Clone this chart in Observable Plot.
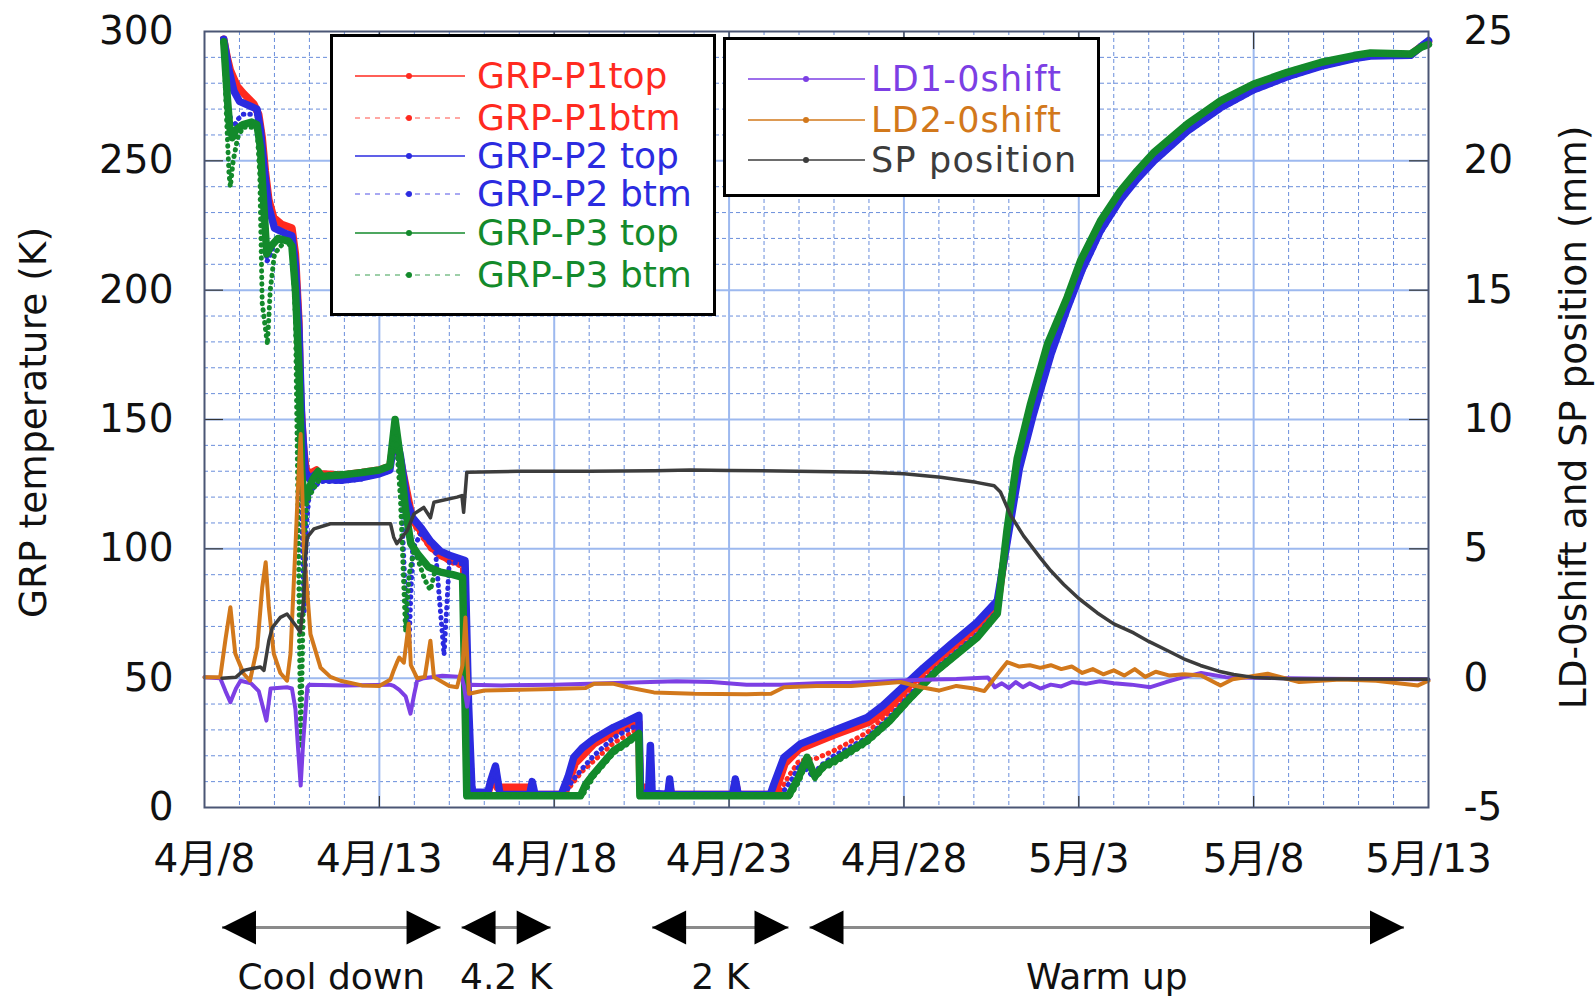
<!DOCTYPE html>
<html><head><meta charset="utf-8">
<script src="https://cdn.jsdelivr.net/npm/d3@7"></script>
<script src="https://cdn.jsdelivr.net/npm/@observablehq/plot@0.6"></script>
<style>
body{margin:0;background:#fff;}
#wrap{position:relative;width:1596px;height:1000px;font-family:"DejaVu Sans",sans-serif;}
.lg{position:absolute;box-sizing:border-box;border:3px solid #000;background:#fff;}
.row{position:absolute;left:0;height:34px;width:100%;}
.row svg{position:absolute;top:0;left:0;}
.row span{position:absolute;line-height:34px;white-space:nowrap;top:0;}
</style></head><body><div id="wrap"></div>
<script>
// ---- data: [day offset from 4/8 00:00, value] ----
const startDay = Date.UTC(2014, 3, 8);
const p1top = [[0.55,297],[0.65,290],[0.74,285],[0.93,279],[1.12,276],[1.41,272],[1.55,268],[1.65,259],[1.74,246],[1.84,235],[1.98,228],[2.2,225.5],[2.5,224],[2.6,214],[2.65,201],[2.7,188],[2.75,157],[2.84,138],[2.9,131],[3.0,129],[3.2,130.5],[3.3,129],[3.9,128.5],[4.5,129.5],[5.0,130.5],[5.3,132],[5.45,145],[5.55,138],[5.7,128],[5.85,118],[5.95,111],[6.18,107],[6.46,101],[6.75,97.4],[7.0,96],[7.41,94],[7.45,60],[7.5,20],[7.55,5],[8.1,5],[8.2,10],[8.32,15],[8.37,7.8],[9.27,7.8],[9.3,5],[10.25,5],[10.45,11],[10.6,17],[11.13,24.5],[11.7,29],[12.1,31.5],[12.42,33],[12.45,7.8],[12.75,7.8],[12.78,5],[13.25,5],[13.3,9],[13.35,5],[15.1,5],[15.18,10],[15.26,5],[16.3,5],[16.6,17],[17.0,22.5],[18.0,28],[19.0,33],[19.5,37.5],[20.0,45],[20.56,52.5],[21.33,61.5],[22.09,70],[22.67,77.5],[22.97,106],[23.27,133],[23.66,154],[24.15,177],[24.62,195],[25.08,210],[25.62,225],[26.19,236.5],[26.67,244.5],[27.15,251.5],[28.1,262.8],[29.05,271.8],[30.0,278.5],[30.96,283.3],[31.91,287.2],[32.87,290],[33.34,291],[34.49,291],[34.77,294],[35.0,296]];
const p1btm = [[0.55,296],[0.7,286],[0.9,279],[1.2,275],[1.45,270],[1.6,262],[1.75,244],[1.9,231],[2.1,226],[2.5,223],[2.6,212],[2.7,185],[2.78,150],[2.88,132],[3.0,129],[3.3,129],[4.5,129],[5.3,131.5],[5.45,144],[5.6,134],[5.8,118],[6.0,109],[6.46,100],[7.0,95],[7.41,93],[7.47,40],[7.55,5],[8.1,5],[8.2,10],[8.32,14],[8.4,5],[10.3,5],[10.5,9],[10.8,14],[11.13,18],[11.7,25],[12.1,28],[12.42,30.5],[12.46,5],[16.4,5],[16.7,12],[17.0,18],[17.5,19],[18.0,22],[18.95,29],[19.6,37],[20.2,45],[20.95,55],[22.1,68],[22.67,76.5],[22.97,106],[23.27,133],[23.66,154.5],[24.15,177.5],[24.62,195.5],[25.08,210.5],[25.62,225.5],[26.19,237],[26.67,245],[27.15,252],[28.1,263],[29.05,272],[30.0,279],[30.96,283.7],[31.91,287.5],[32.87,290.3],[33.34,291.3],[34.49,291.2],[34.77,294],[35.0,295.5]];
const p2top = [[0.55,297],[0.7,285],[0.84,277],[1.0,273],[1.5,270],[1.6,262],[1.7,248],[1.84,232],[2.0,224],[2.3,222],[2.5,221],[2.6,210],[2.7,185],[2.78,150],[2.88,130],[3.0,127],[3.2,129],[3.3,127],[3.9,126.5],[4.5,127.5],[5.0,129],[5.3,130.5],[5.45,145],[5.6,136],[5.8,118],[5.95,112],[6.2,108],[6.46,103],[6.75,99],[7.0,97.5],[7.45,95.5],[7.55,40],[7.65,6],[8.1,5.8],[8.2,11],[8.32,16],[8.45,5],[9.3,5],[9.37,10],[9.45,5],[10.2,5],[10.4,12],[10.56,19.4],[10.8,23],[11.13,26.5],[11.7,31],[12.1,33.5],[12.42,35.6],[12.47,5.5],[12.7,5.5],[12.75,24],[12.8,5.5],[13.25,5],[13.3,11],[13.35,5],[15.1,5],[15.18,11],[15.26,5],[16.18,5],[16.28,9],[16.57,19.4],[17.04,24.6],[18.0,29.8],[18.95,34.8],[19.4,39.4],[20.0,47],[20.56,54],[21.33,63],[22.09,71.6],[22.67,80],[22.98,105],[23.3,131],[23.7,152],[24.2,175],[24.67,193],[25.1,208],[25.62,223],[26.19,235],[26.67,243],[27.15,250],[28.1,261.5],[29.05,270.5],[30.0,277.5],[30.96,282.5],[31.91,286.5],[32.87,289.5],[33.34,290.5],[34.49,290.8],[34.77,294],[35.0,296.5]];
const p2btm = [[0.55,297],[0.65,275],[0.79,262],[0.95,266],[1.1,268],[1.5,268],[1.6,262],[1.7,240],[1.78,211],[1.9,214],[2.0,219],[2.36,220.5],[2.5,219],[2.6,205],[2.7,160],[2.78,110],[2.85,75],[2.92,110],[3.0,122],[3.3,126],[3.9,126],[4.5,127],[5.3,130],[5.45,143],[5.6,128],[5.75,80],[5.85,63],[5.95,100],[6.2,106],[6.6,100],[6.85,59],[7.0,95],[7.45,94],[7.55,30],[7.7,5.5],[8.1,5.5],[8.2,11],[8.32,16],[8.45,5],[9.3,5],[9.37,10],[9.45,5],[10.3,5],[10.5,10],[10.8,15],[11.13,20],[11.7,27],[12.1,30],[12.42,32],[12.47,5.5],[12.72,5.5],[12.75,22],[12.8,5.5],[13.25,5],[13.3,11],[13.35,5],[15.1,5],[15.18,11],[15.26,5],[16.5,5],[16.8,11],[17.04,17],[17.4,12],[17.6,16],[18.0,20],[18.95,27],[19.6,35],[20.2,44],[20.95,54],[22.1,67],[22.67,76],[22.98,104],[23.3,130],[23.7,151],[24.2,174],[24.67,192],[25.1,207],[25.62,222],[26.19,234.5],[26.67,242.5],[27.15,249.5],[28.1,261],[29.05,270],[30.0,277],[30.96,282],[31.91,286.2],[32.87,289.2],[33.34,290.3],[34.49,290.6],[34.77,293.8],[35.0,296.5]];
const p3top = [[0.55,296],[0.65,275],[0.72,263],[0.8,259],[0.9,262],[1.1,264],[1.35,265],[1.5,264],[1.6,255],[1.7,232],[1.78,214],[1.9,217],[2.1,220],[2.4,219],[2.5,217],[2.6,200],[2.7,170],[2.78,130],[2.85,118],[2.95,122],[3.1,127],[3.25,130],[3.35,128],[3.9,128.5],[4.5,129.5],[5.0,130.5],[5.3,132],[5.45,150],[5.6,135],[5.75,115],[5.9,102],[6.1,98],[6.4,93],[6.75,91],[7.1,90],[7.38,89],[7.45,40],[7.5,4.5],[10.75,4.5],[10.9,9],[11.13,13],[11.7,22],[12.1,25.5],[12.42,28.6],[12.45,4.5],[16.7,4.5],[17.0,12],[17.23,19.4],[17.45,12],[17.7,16],[18.0,18],[18.95,25.9],[19.6,33.6],[20.2,42.6],[20.95,53],[22.1,65.8],[22.67,75],[22.95,107.6],[23.24,135],[23.62,156],[24.1,179],[24.67,197.3],[25.05,211.4],[25.62,226.8],[26.19,238.4],[26.67,246.2],[27.15,253.3],[28.1,264.2],[29.05,273.2],[30.0,279.7],[30.96,284.2],[31.91,288],[32.87,290.7],[33.34,291.7],[34.49,291.3],[34.77,293.8],[35.0,295]];
const p3btm = [[0.55,296],[0.62,270],[0.7,245],[0.74,240],[0.82,250],[0.95,259],[1.1,263],[1.5,263],[1.58,245],[1.65,195],[1.8,179],[1.88,200],[2.0,214],[2.3,219],[2.5,217],[2.6,190],[2.68,110],[2.75,23],[2.8,60],[2.86,105],[2.92,118],[3.1,123],[3.3,127],[3.6,129],[4.5,129.5],[5.3,131.5],[5.45,149],[5.6,120],[5.75,68],[5.85,90],[6.0,100],[6.3,88],[6.46,84],[6.6,92],[7.0,90],[7.38,89],[7.45,30],[7.5,4.5],[10.8,4.5],[11.0,9],[11.13,12],[11.7,21],[12.1,24.5],[12.42,28],[12.45,4.5],[16.75,4.5],[17.0,10],[17.23,18],[17.45,11],[17.7,15],[18.0,17],[18.95,25],[19.6,33],[20.2,42],[20.95,52.5],[22.1,65.5],[22.67,74.5],[22.95,107],[23.24,135],[23.62,156.5],[24.1,179.5],[24.67,197.5],[25.05,211.5],[25.62,227],[26.19,238.5],[26.67,246.5],[27.15,253.5],[28.1,264.5],[29.05,273.5],[30.0,280],[30.96,284.5],[31.91,288.2],[32.87,290.8],[33.34,291.8],[34.49,291.5],[34.77,294],[35.0,295]];
// right axis series (mm)
const ld1 = [[0,0.04],[0.45,0],[0.6,-0.5],[0.74,-0.93],[0.9,-0.4],[1.03,-0.1],[1.33,-0.2],[1.55,-0.5],[1.77,-1.64],[1.89,-0.4],[2.36,-0.35],[2.5,-0.4],[2.6,-1.2],[2.68,-2.8],[2.75,-4.15],[2.82,-2.5],[2.94,-0.35],[3.0,-0.25],[4.0,-0.28],[5.3,-0.25],[5.41,-0.3],[5.57,-0.45],[5.75,-0.7],[5.89,-1.37],[6.0,-0.6],[6.08,-0.1],[6.27,0.0],[6.8,0.09],[7.35,0.05],[7.42,-0.3],[7.51,-1.1],[7.6,-0.25],[8.5,-0.28],[10.0,-0.25],[11.0,-0.22],[12.0,-0.18],[13.5,-0.12],[14.5,-0.15],[15.5,-0.25],[16.5,-0.25],[17.5,-0.2],[18.5,-0.18],[19.5,-0.12],[20.5,-0.06],[21.5,-0.03],[22.4,0.03],[22.6,-0.35],[22.8,-0.2],[23.0,-0.38],[23.2,-0.15],[23.4,-0.35],[23.6,-0.2],[23.9,-0.4],[24.2,-0.25],[24.5,-0.32],[24.8,-0.15],[25.2,-0.22],[25.6,-0.12],[26.0,-0.2],[26.5,-0.25],[27.05,-0.35],[27.5,-0.15],[28.0,0.04],[28.5,0.2],[29.2,0.04],[30.0,0.02],[31.0,0],[32.0,-0.02],[33.0,-0.03],[34.0,-0.03],[35.0,-0.05]];
const ld2 = [[0,0.04],[0.45,0.04],[0.6,1.5],[0.74,2.74],[0.88,0.95],[1.12,0.17],[1.3,-0.1],[1.51,1.2],[1.65,3.5],[1.75,4.48],[1.84,2.74],[1.98,0.95],[2.17,0.2],[2.36,-0.1],[2.46,0.95],[2.6,5.06],[2.68,7.6],[2.75,9.44],[2.8,7.0],[2.84,5.06],[3.03,1.7],[3.32,0.4],[3.6,0.05],[3.89,-0.1],[4.5,-0.28],[5.0,-0.3],[5.32,-0.05],[5.41,0.3],[5.5,0.6],[5.57,0.8],[5.7,0.6],[5.84,2.1],[5.9,0.5],[6.08,0.0],[6.3,0.05],[6.46,1.45],[6.56,0.04],[7.0,-0.3],[7.22,-0.35],[7.38,0.5],[7.46,2.35],[7.56,-0.6],[8.0,-0.48],[9.0,-0.45],[10.0,-0.42],[10.9,-0.38],[11.13,-0.22],[11.7,-0.22],[12.1,-0.35],[12.85,-0.55],[14.0,-0.6],[15.5,-0.62],[16.2,-0.6],[16.57,-0.35],[17.5,-0.3],[18.5,-0.3],[19.9,-0.15],[20.5,-0.35],[21.0,-0.48],[21.5,-0.3],[22.0,-0.4],[22.3,-0.5],[22.76,0.3],[22.95,0.62],[23.3,0.45],[23.6,0.5],[23.9,0.4],[24.2,0.5],[24.5,0.35],[24.8,0.45],[25.1,0.2],[25.4,0.35],[25.7,0.15],[26.0,0.3],[26.3,0.1],[26.6,0.35],[26.9,0.05],[27.2,0.25],[27.6,0.1],[28.0,0.15],[28.5,0.1],[29.05,-0.28],[29.4,-0.04],[30.4,0.17],[31.3,-0.15],[32.5,-0.05],[33.5,-0.1],[34.7,-0.28],[35.0,-0.1]];
const sp = [[0.5,0],[0.9,0.04],[1.12,0.3],[1.4,0.38],[1.6,0.43],[1.7,0.3],[1.84,1.45],[1.94,1.96],[2.17,2.35],[2.36,2.48],[2.5,2.23],[2.65,1.96],[2.74,1.77],[2.84,3.12],[2.89,4.67],[2.94,5.45],[3.13,5.77],[3.6,5.97],[5.32,5.97],[5.41,5.45],[5.5,5.2],[5.8,5.71],[5.99,6.35],[6.27,6.6],[6.46,6.2],[6.56,6.8],[7.22,7.0],[7.36,7.06],[7.41,6.41],[7.5,7.96],[9,8.0],[11,8.0],[12.87,8.02],[13.9,8.05],[15,8.03],[16.96,8.0],[19.0,7.96],[20.0,7.9],[21.05,7.77],[22.07,7.57],[22.58,7.44],[22.76,7.2],[23.05,6.3],[23.42,5.5],[23.9,4.65],[24.2,4.15],[24.57,3.62],[25.0,3.08],[25.53,2.52],[26.0,2.1],[26.57,1.75],[27.0,1.42],[27.53,1.07],[28.0,0.75],[28.48,0.49],[29.0,0.27],[29.43,0.14],[30.0,0.03],[31,-0.03],[33,-0.03],[35,-0.04]];
const phases = [
  {label: "Cool down", start: 0.5, end: 6.75},
  {label: "4.2 K", start: 7.35, end: 9.9},
  {label: "2 K", start: 12.8, end: 16.7},
  {label: "Warm up", start: 17.3, end: 34.3}
];
const tempTicks = [0, 50, 100, 150, 200, 250, 300];
const dateTickDays = [0, 5, 10, 15, 20, 25, 30, 35];
const tempSeries = [
  {name: "GRP-P1top", data: p1top, color: "#ff2a1f", dashed: false},
  {name: "GRP-P1btm", data: p1btm, color: "#ff2a1f", dashed: true},
  {name: "GRP-P2 top", data: p2top, color: "#2b2be0", dashed: false},
  {name: "GRP-P2 btm", data: p2btm, color: "#2b2be0", dashed: true},
  {name: "GRP-P3 top", data: p3top, color: "#138a2b", dashed: false},
  {name: "GRP-P3 btm", data: p3btm, color: "#138a2b", dashed: true}
];
const rightSeries = [
  {name: "LD1-0shift", data: ld1, color: "#7c3fe4", width: 4},
  {name: "LD2-0shift", data: ld2, color: "#d2781b", width: 4},
  {name: "SP position", data: sp, color: "#3c3c3c", width: 3.5}
];

// ---- helpers ----
const toDate = d => new Date(startDay + d * 86400000);
const mmToK = mm => (mm + 5) * 10;  // right axis: -5..25 mm over 0..300 K
const dateFmt = d => `${d.getUTCMonth() + 1}月/${d.getUTCDate()}`;
const majorDates = dateTickDays.map(toDate);
const minorDates = d3.range(1, 35).filter(d => d % 5).map(toDate);
const innerMajorDates = dateTickDays.filter(d => d > 0 && d < 35).map(toDate);
const minorK = d3.range(10, 300, 10).filter(k => k % 50);
const innerK = tempTicks.filter(k => k > 0 && k < 300);

const W = 1596, H = 1000, mL = 204, mR = 168, mT = 31, mB = 193;
const fw = W - mL - mR, fh = H - mT - mB;

const head = {draw(ctx) { ctx.moveTo(0, 0); ctx.lineTo(-34, -17); ctx.lineTo(-34, 17); ctx.closePath(); }};

const marks = [
  Plot.gridX(minorDates, {stroke: "#6a8edb", strokeOpacity: 1, strokeWidth: 1, strokeDasharray: "4,3"}),
  Plot.gridY(minorK, {stroke: "#6a8edb", strokeOpacity: 1, strokeWidth: 1, strokeDasharray: "4,3"}),
  Plot.gridX(innerMajorDates, {stroke: "#9db9ef", strokeOpacity: 1, strokeWidth: 2}),
  Plot.gridY(innerK, {stroke: "#9db9ef", strokeOpacity: 1, strokeWidth: 2}),
  Plot.tickY(innerK, {y: d => d, insetRight: fw - 19, stroke: "#333", strokeWidth: 1.2}),
  Plot.tickY(innerK, {y: d => d, insetLeft: fw - 19, stroke: "#333", strokeWidth: 1.2}),
  Plot.tickX(innerMajorDates, {x: d => d, insetTop: fh - 11, stroke: "#333", strokeWidth: 1.2}),
  Plot.tickX(innerMajorDates, {x: d => d, insetBottom: fh - 18, stroke: "#333", strokeWidth: 1.2})
];
for (const s of tempSeries) {
  marks.push(Plot.line(s.data, {
    x: p => toDate(p[0]), y: p => p[1], stroke: s.color,
    strokeWidth: s.dashed ? 5 : 7.5,
    strokeDasharray: s.dashed ? "0.5,6" : null,
    strokeLinecap: "round", strokeLinejoin: "round"
  }));
}
for (const s of rightSeries) {
  marks.push(Plot.line(s.data, {
    x: p => toDate(p[0]), y: p => mmToK(p[1]), stroke: s.color,
    strokeWidth: s.width, strokeLinecap: "round", strokeLinejoin: "round"
  }));
}
marks.push(
  Plot.frame({stroke: "#4b5675", strokeWidth: 2}),
  Plot.axisY(tempTicks, {anchor: "left", tickSize: 0, tickPadding: 31, fontSize: 39, fill: "#111"}),
  Plot.axisY(tempTicks, {anchor: "right", tickSize: 0, tickPadding: 35, fontSize: 39, fill: "#111", tickFormat: k => String(k / 10 - 5)}),
  Plot.axisX(majorDates, {anchor: "bottom", tickSize: 0, tickPadding: 37, fontSize: 39, fill: "#111", tickFormat: dateFmt, fontFamily: '"DejaVu Sans", "Noto Sans CJK JP", sans-serif'}),
  Plot.text(["GRP temperature (K)"], {text: d => d, frameAnchor: "left", textAnchor: "middle", dx: -171, dy: 3, rotate: -90, fontSize: 37.5, fill: "#111"}),
  Plot.text(["LD-0shift and SP position (mm)"], {text: d => d, frameAnchor: "right", textAnchor: "middle", dx: 145, dy: -2, rotate: -90, fontSize: 37.5, fill: "#111"}),
  Plot.link(phases, {x1: d => toDate(d.start), x2: d => toDate(d.end), y1: () => 0, y2: () => 0, dy: 120, stroke: "#8a8a8a", strokeWidth: 3}),
  Plot.dot(phases, {x: d => toDate(d.start), y: () => 0, dy: 120, symbol: head, rotate: 180, fill: "#000", stroke: "none"}),
  Plot.dot(phases, {x: d => toDate(d.end), y: () => 0, dy: 120, symbol: head, fill: "#000", stroke: "none"}),
  Plot.text(phases, {x: d => toDate((d.start + d.end) / 2), y: () => 0, dy: 170, text: d => d.label, fontSize: 36, fill: "#111"})
);

const chart = Plot.plot({
  width: W, height: H, marginLeft: mL, marginRight: mR, marginTop: mT, marginBottom: mB,
  style: {fontFamily: '"DejaVu Sans", sans-serif', background: "white", overflow: "visible"},
  x: {type: "utc", domain: [toDate(0), toDate(35)]},
  y: {domain: [0, 300]},
  marks
});
const wrap = document.getElementById("wrap");
wrap.appendChild(chart);

// ---- legends (HTML overlay) ----
function legendBox(items, box, rows, sample, fontSize, spacing) {
  const div = document.createElement("div");
  div.className = "lg";
  Object.assign(div.style, {left: box.x + "px", top: box.y + "px", width: box.w + "px", height: box.h + "px"});
  items.forEach((it, i) => {
    const row = document.createElement("div");
    row.className = "row";
    row.style.top = (rows[i] - box.y - 3 - 17) + "px";
    const x1 = sample.x1 - box.x - 3, x2 = sample.x2 - box.x - 3, xm = sample.xm - box.x - 3;
    row.innerHTML = `<svg width="${x2 + 5}" height="34"><line x1="${x1}" x2="${x2}" y1="17" y2="17" stroke="${it.color}" stroke-width="1.5" ${it.dashed ? 'stroke-dasharray="5,5" stroke-opacity="0.55"' : ''}/><circle cx="${xm}" cy="17" r="3" fill="${it.color}"/></svg><span style="left:${sample.tx - box.x - 3}px;font-size:${fontSize}px;letter-spacing:${spacing}px;color:${it.color}">${it.name}</span>`;
    div.appendChild(row);
  });
  wrap.appendChild(div);
}
legendBox(tempSeries, {x: 330, y: 34, w: 386, h: 282}, [76, 118, 156, 194, 233, 275], {x1: 355, x2: 465, xm: 409, tx: 477}, 36, 0);
legendBox(rightSeries, {x: 723, y: 37, w: 377, h: 160}, [79, 120, 160], {x1: 748, x2: 865, xm: 806, tx: 871}, 35, 1.2);
</script></body></html>
